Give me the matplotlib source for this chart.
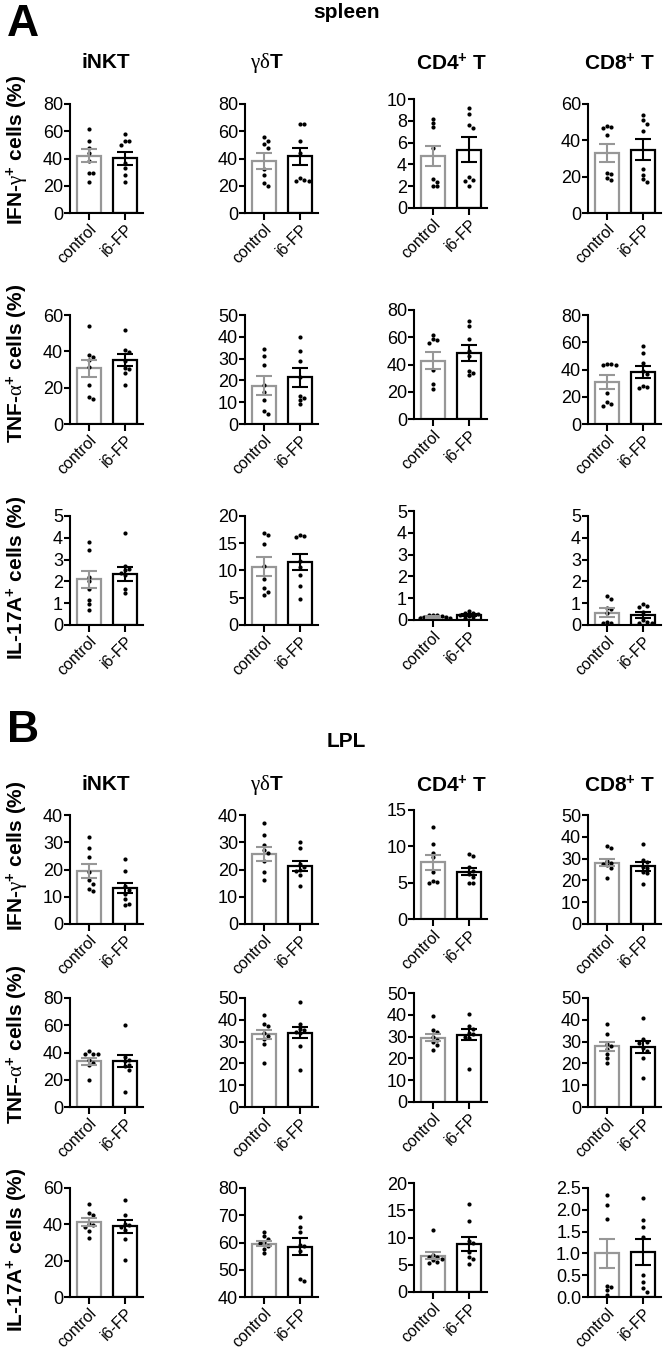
import numpy as np
import matplotlib
matplotlib.use("Agg")
import matplotlib.pyplot as plt

plt.rcParams['font.family'] = ['Liberation Sans', 'DejaVu Sans']
plt.rcParams['mathtext.fontset'] = 'custom'
plt.rcParams['mathtext.rm'] = 'Liberation Serif'
plt.rcParams['mathtext.it'] = 'Liberation Serif:italic'
plt.rcParams['mathtext.bf'] = 'Liberation Sans:bold'

groups = ['control', 'i6-FP']
cells = ['iNKT', r'$\mathrm{\gamma\delta}$T', r'CD4$^{\mathbf{+}}$ T', r'CD8$^{\mathbf{+}}$ T']
cytokines = [r'IFN-$\mathrm{\gamma}^{\mathbf{+}}$ cells (%)',
             r'TNF-$\mathrm{\alpha}^{\mathbf{+}}$ cells (%)',
             r'IL-17A$^{\mathbf{+}}$ cells (%)']
tissues = ['spleen', 'LPL']
panels = ['A', 'B']

# ---------------- spleen ----------------
# y axis (min, max, step) per cell type
spleen_ifng_axis = [(0, 80, 20), (0, 80, 20), (0, 10, 2), (0, 60, 20)]
spleen_ifng_mean = [[42, 40.3], [38, 41.6], [4.76, 5.36], [33, 34.9]]
spleen_ifng_sem = [[4.7, 4.8], [5.9, 6.1], [0.95, 1.13], [5.0, 5.6]]
spleen_ifng_ctrl = [[62, 53, 48, 44, 38, 29, 29, 23],
                    [56, 53, 51, 48, 32, 28, 22, 20],
                    [8.2, 7.8, 7.4, 5.5, 2.7, 2.4, 2.0, 2.0],
                    [48, 47.5, 47, 43, 22, 21.5, 19, 18]]
spleen_ifng_fp = [[58, 53, 52.5, 50, 36.5, 33, 28, 23],
                  [65.5, 65.5, 52.5, 44, 25.5, 24.5, 23.5, 23.5],
                  [9.2, 8.6, 7.6, 7.3, 2.8, 2.6, 2.5, 2.0],
                  [54, 51, 49, 45, 24, 21, 18.5, 17]]

spleen_tnfa_axis = [(0, 60, 20), (0, 50, 10), (0, 80, 20), (0, 80, 20)]
spleen_tnfa_mean = [[30.6, 35.2], [17.6, 21.4], [42.9, 48.5], [30.8, 38.1]]
spleen_tnfa_sem = [[4.6, 3.3], [4.5, 4.2], [6.1, 5.8], [4.9, 4.5]]
spleen_tnfa_ctrl = [[54, 38, 37, 35, 31.5, 21.5, 15, 14],
                    [34.5, 31, 27, 18, 14.5, 11, 6, 4.5],
                    [62, 58.5, 58, 56, 36, 25.5, 22],
                    [44, 44, 43.5, 43, 23, 16.5, 15, 13.5]]
spleen_tnfa_fp = [[52, 40.5, 39.5, 34.5, 31, 30.5, 28, 21.5],
                  [40, 33.5, 29, 21.5, 13, 12, 11, 9],
                  [72, 68.5, 59, 50, 46.5, 35.5, 33.5, 32],
                  [57, 52, 45, 39, 37, 28, 27, 26.5]]

spleen_il17_axis = [(0, 5, 1), (0, 20, 5), (0, 5, 1), (0, 5, 1)]
spleen_il17_mean = [[2.1, 2.34], [10.7, 11.5], [0.15, 0.23], [0.57, 0.46]]
spleen_il17_sem = [[0.38, 0.3], [1.7, 1.5], [0.05, 0.05], [0.19, 0.15]]
spleen_il17_ctrl = [[3.8, 3.45, 2.2, 2.0, 1.65, 1.15, 0.95, 0.7],
                    [16.8, 16.6, 14.9, 10.8, 8.4, 6.7, 6.1, 5.5],
                    [0.25, 0.24, 0.22, 0.2, 0.15, 0.12, 0.1, 0.07],
                    [1.33, 1.18, 0.8, 0.73, 0.54, 0.15, 0.1, 0.08]]
spleen_il17_fp = [[4.2, 2.7, 2.55, 2.5, 2.4, 2.3, 1.65, 1.45],
                  [16.6, 16.3, 16.1, 11.8, 10.7, 9.2, 7.2, 4.7],
                  [0.4, 0.32, 0.3, 0.28, 0.22, 0.18, 0.12, 0.08],
                  [0.95, 0.89, 0.84, 0.61, 0.23, 0.15, 0.1, 0.09]]

# ---------------- LPL ----------------
lpl_ifng_axis = [(0, 40, 10), (0, 40, 10), (0, 15, 5), (0, 50, 10)]
lpl_ifng_mean = [[19.5, 13.2], [25.7, 21.3], [7.8, 6.5], [28.2, 26.4]]
lpl_ifng_sem = [[2.5, 2.0], [2.7, 1.8], [1.05, 0.45], [1.6, 1.9]]
lpl_ifng_ctrl = [[32, 28, 24.5, 19, 16, 14.5, 13, 12],
                 [37, 32.5, 29, 27, 26, 23, 19, 16],
                 [12.7, 10.3, 9.1, 8.5, 6.5, 5.2, 5.1, 4.9],
                 [36, 35, 29, 28, 27.5, 27, 25.5, 21]]
lpl_ifng_fp = [[24, 19.5, 14, 12.5, 11, 9, 7.5, 7],
               [30, 28, 22, 21, 20, 19.5, 18, 14],
               [9, 8.7, 7.1, 6.6, 6.2, 5.8, 5.0, 4.9],
               [36.5, 29.5, 28.5, 26, 25.5, 24, 23.5, 18.5]]

lpl_tnfa_axis = [(0, 80, 20), (0, 50, 10), (0, 50, 10), (0, 50, 10)]
lpl_tnfa_mean = [[33.5, 33.5], [33.3, 34], [29.5, 30.9], [27.8, 27.4]]
lpl_tnfa_sem = [[2.4, 4.3], [2.1, 2.5], [1.5, 2.5], [1.9, 2.7]]
lpl_tnfa_ctrl = [[41, 39, 39, 39, 34.5, 32.5, 30.5, 19.5],
                 [42, 38, 37, 34, 32.5, 31, 29, 20],
                 [39.5, 33, 32, 30, 28.5, 27.5, 26, 24],
                 [38, 33.5, 29, 28, 26.5, 24.5, 22.5, 20]]
lpl_tnfa_fp = [[60.5, 37, 34.5, 33.5, 31, 30, 27.5, 11],
               [48, 38, 36, 35.5, 34.5, 34, 28, 17],
               [40.5, 35, 33.5, 31.5, 31, 30, 29.5, 15],
               [41, 31, 30, 29.5, 27, 25.5, 22.5, 13.5]]

lpl_il17_axis = [(0, 60, 20), (40, 80, 10), (0, 20, 5), (0, 2.5, 0.5)]
lpl_il17_mean = [[41.3, 39], [59.6, 58.4], [6.67, 8.8], [1.0, 1.03]]
lpl_il17_sem = [[2.2, 3.6], [0.9, 3.1], [0.6, 1.35], [0.33, 0.3]]
lpl_il17_ctrl = [[51, 46, 45, 40.3, 39.8, 38.4, 36.6, 32.4],
                 [64, 62.4, 61.2, 60.2, 59.8, 58.8, 57.6, 56],
                 [11.3, 6.8, 6.5, 6.4, 6.1, 5.8, 5.5, 5.3],
                 [2.33, 2.11, 1.8, 0.26, 0.23, 0.16, 0.04]]
lpl_il17_fp = [[53.4, 45, 40.3, 39.4, 38.4, 37.1, 31.9, 20.3],
               [69.3, 65.7, 64, 59.2, 58.8, 57, 46.7, 45.8],
               [16.1, 13, 9.4, 8.9, 7.3, 6.4, 6.1, 5.2],
               [2.28, 1.76, 1.6, 1.38, 0.51, 0.35, 0.2, 0.12]]

rows = [
    (spleen_ifng_axis, spleen_ifng_mean, spleen_ifng_sem, spleen_ifng_ctrl, spleen_ifng_fp),
    (spleen_tnfa_axis, spleen_tnfa_mean, spleen_tnfa_sem, spleen_tnfa_ctrl, spleen_tnfa_fp),
    (spleen_il17_axis, spleen_il17_mean, spleen_il17_sem, spleen_il17_ctrl, spleen_il17_fp),
    (lpl_ifng_axis, lpl_ifng_mean, lpl_ifng_sem, lpl_ifng_ctrl, lpl_ifng_fp),
    (lpl_tnfa_axis, lpl_tnfa_mean, lpl_tnfa_sem, lpl_tnfa_ctrl, lpl_tnfa_fp),
    (lpl_il17_axis, lpl_il17_mean, lpl_il17_sem, lpl_il17_ctrl, lpl_il17_fp),
]

# layout in pixels
W, H = 664, 1352
col_left = [70, 245, 414, 588]
col_dy = [0, 0, -5, 0]
ax_w, ax_h = 73, 109
row_top = [104, 315, 516, 815, 998, 1188]
label_y = [150, 363, 578, 856, 1044, 1250]
title_x = [106, 267, 452, 620]
title_y = [63, 785]
colors = ['#979797', 'black']
xlim = (-0.53, 1.5)
bar_w = 0.67


def swarm(vals, px_per_unit, px_per_x, d=4.3):
    vals = np.asarray(vals, dtype=float)
    order = np.argsort(-vals)
    placed = []
    offs = np.zeros(len(vals))
    for i in order:
        y = vals[i] * px_per_unit
        for k in range(30):
            cand = 0.0 if k == 0 else ((k + 1) // 2) * d * (1 if k % 2 else -1)
            if all((cand - px) ** 2 + (y - py) ** 2 >= d ** 2 * 0.95 for px, py in placed):
                break
        placed.append((cand, y))
        offs[i] = cand / px_per_x
    return offs


fig = plt.figure(figsize=(W / 100, H / 100), dpi=100)

for r, (axis, mean, sem, ctrl, fp) in enumerate(rows):
    for c in range(4):
        top = row_top[r] + col_dy[c]
        ax = fig.add_axes([col_left[c] / W, 1 - (top + ax_h) / H, ax_w / W, ax_h / H])
        ymin, ymax, step = axis[c]
        ppu = ax_h / (ymax - ymin)
        ppx = ax_w / (xlim[1] - xlim[0])
        for g, pts in enumerate([ctrl[c], fp[c]]):
            ax.bar(g, mean[c][g] - ymin, bottom=ymin, width=bar_w, facecolor='white',
                   edgecolor=colors[g], linewidth=1.6, zorder=1)
            offs = swarm(pts, ppu, ppx)
            ax.plot(g + offs, pts, 'o', color='black', ms=3.0, mew=0, zorder=3, clip_on=False)
            ax.errorbar(g, mean[c][g], yerr=sem[c][g], fmt='none', ecolor=colors[g],
                        elinewidth=1.5, capsize=6, capthick=1.5, zorder=4, clip_on=False)
        ax.set_xlim(*xlim)
        ax.set_ylim(ymin, ymax)
        ticks = np.arange(ymin, ymax + step / 2, step)
        ax.set_yticks(ticks)
        if step < 1:
            ax.set_yticklabels(['{:.1f}'.format(t) for t in ticks])
        else:
            ax.set_yticklabels(['{:g}'.format(t) for t in ticks])
        ax.set_xticks([0, 1])
        ax.set_xticklabels(groups, rotation=45, ha='right', rotation_mode='anchor')
        for s in ['top', 'right']:
            ax.spines[s].set_visible(False)
        for s in ['left', 'bottom']:
            ax.spines[s].set_linewidth(1.5)
        ax.tick_params(axis='y', length=4, width=1.5, pad=1, labelsize=13)
        ax.tick_params(axis='x', length=5, width=1.5, pad=1, labelsize=11.5)

    fig.text(17 / W, 1 - label_y[r] / H, cytokines[r % 3], rotation=90, ha='center',
             va='center', fontsize=15, fontweight='bold')

for t in range(2):
    for c in range(4):
        fig.text(title_x[c] / W, 1 - title_y[t] / H, cells[c], ha='center', va='center',
                 fontsize=15, fontweight='bold')

fig.text(347 / W, 1 - 13 / H, tissues[0], ha='center', va='center', fontsize=15, fontweight='bold')
fig.text(346 / W, 1 - 741 / H, tissues[1], ha='center', va='center', fontsize=15, fontweight='bold')
fig.text(23 / W, 1 - 24 / H, panels[0], ha='center', va='center', fontsize=32, fontweight='bold')
fig.text(23 / W, 1 - 731 / H, panels[1], ha='center', va='center', fontsize=32, fontweight='bold')

fig.savefig('out.png', dpi=100)
